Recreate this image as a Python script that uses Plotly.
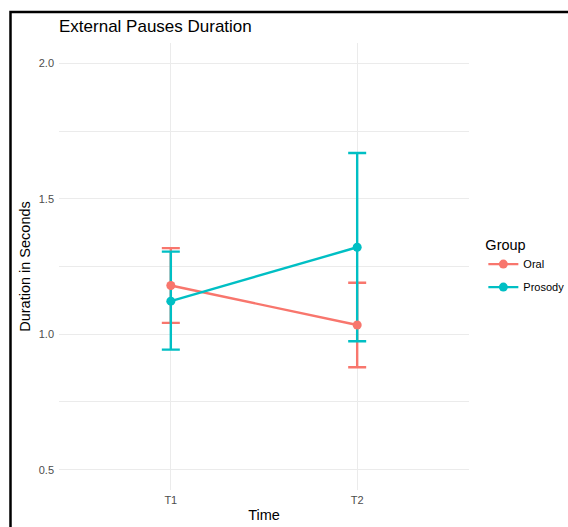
import plotly.graph_objects as go

times = ["T1", "T2"]
groups = ["Oral", "Prosody"]
means = {"Oral": [1.180, 1.034], "Prosody": [1.122, 1.321]}
upper = {"Oral": [1.318, 1.190], "Prosody": [1.305, 1.669]}
lower = {"Oral": [1.042, 0.878], "Prosody": [0.943, 0.974]}
colors = {"Oral": "#F8766D", "Prosody": "#00BFC4"}
y_ticks = [0.5, 1.0, 1.5, 2.0]
y_tick_text = ["0.5", "1.0", "1.5", "2.0"]

FONT = "Liberation Sans, Arial, sans-serif"

fig = go.Figure()

# error bars first (drawn underneath)
for g in groups:
    m = means[g]
    fig.add_trace(go.Scatter(
        x=times, y=m, mode="markers",
        marker=dict(size=1, color=colors[g], opacity=0),
        error_y=dict(type="data", symmetric=False,
                     array=[u - v for u, v in zip(upper[g], m)],
                     arrayminus=[v - l for v, l in zip(m, lower[g])],
                     color=colors[g], thickness=2.4, width=9),
        showlegend=False, hoverinfo="skip"))

for g in groups:
    fig.add_trace(go.Scatter(
        x=times, y=means[g], mode="lines+markers", name=g, legendgroup=g,
        line=dict(color=colors[g], width=2.4),
        marker=dict(color=colors[g], size=9)))

fig.update_layout(
    width=568, height=527,
    margin=dict(l=59, r=99, t=43, b=37, autoexpand=False),
    paper_bgcolor="white", plot_bgcolor="white",
    font=dict(family=FONT, color="black"),
    title=dict(text="External Pauses Duration", x=0, xref="paper", xanchor="left",
               y=1 - 26 / 527, yref="container", yanchor="middle",
               automargin=False,
               font=dict(size=17, color="black", family=FONT)),
    xaxis=dict(type="category", categoryorder="array", categoryarray=times,
               range=[-0.6, 1.6], showgrid=True, gridcolor="#ebebeb", gridwidth=1.1,
               zeroline=False, showline=False, ticks="", automargin=False,
               tickfont=dict(size=11, color="#4d4d4d"), ticklabelstandoff=2,
               title=dict(text="Time", font=dict(size=14.5, color="black"), standoff=4)),
    yaxis=dict(range=[0.425, 2.075], tickvals=y_ticks, ticktext=y_tick_text,
               showgrid=True, gridcolor="#ebebeb", gridwidth=1.1,
               minor=dict(tickvals=[0.75, 1.25, 1.75], showgrid=True,
                          gridcolor="#ebebeb", gridwidth=0.55, ticks=""),
               zeroline=False, showline=False, ticks="", automargin=False,
               tickfont=dict(size=11, color="#4d4d4d"), ticklabelstandoff=4,
               title=dict(text="Duration in Seconds", font=dict(size=14.5, color="black"),
                          standoff=4)),
    legend=dict(x=1.035, xanchor="left", y=0.58, yanchor="top",
                tracegroupgap=4,
                title=dict(text="Group", font=dict(size=14.5, color="black")),
                font=dict(size=11, color="black"), bgcolor="rgba(0,0,0,0)"),
    shapes=[dict(type="rect", xref="paper", yref="paper",
                 x0=-0.1183, x1=2.0, y0=-1.0, y1=1.0694,
                 line=dict(color="black", width=2.5), fillcolor="rgba(0,0,0,0)",
                 layer="above")],
)

fig.write_html("out.html", config={"displayModeBar": False},
               post_script="document.body.style.margin='0';document.body.style.overflow='hidden';")
